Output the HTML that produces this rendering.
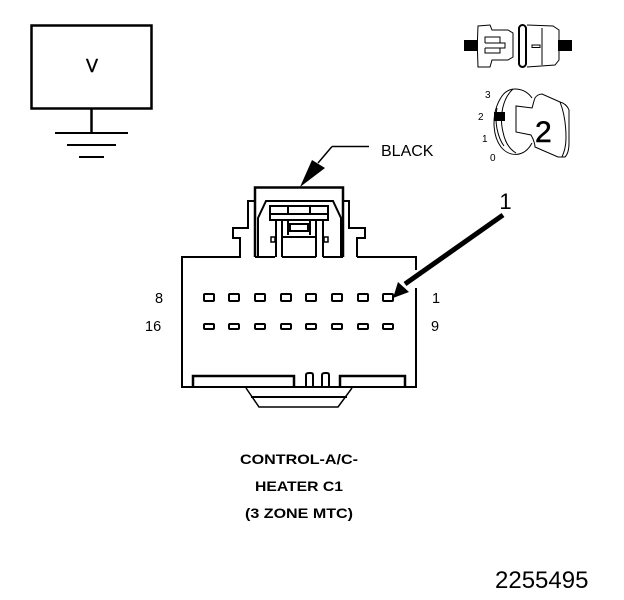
<!DOCTYPE html>
<html><head><meta charset="utf-8"><style>
html,body{margin:0;padding:0;background:#fff}
svg{display:block}
text{font-family:"Liberation Sans",sans-serif;fill:#000}
</style></head><body>
<svg width="624" height="600" viewBox="0 0 624 600" xmlns="http://www.w3.org/2000/svg">
<rect width="624" height="600" fill="#fff"/>
<!-- V box -->
<g fill="none" stroke="#000">
<rect x="31.500" y="25.500" width="120" height="83" stroke-width="2.500"/>
<path d="M91.500 109V133" stroke-width="2.500"/>
<path d="M55 133H128M67 145H116M79 157H104" stroke-width="2"/>
</g>
<text x="92" y="72" font-size="18" text-anchor="middle" stroke="#000" stroke-width="0.4">V</text>

<!-- Fuse icon -->
<g fill="#000">
<rect x="464" y="40" width="13" height="11"/>
<rect x="558" y="40" width="14" height="11"/>
</g>
<g fill="none" stroke="#000" stroke-width="1">
<path d="M478 26L490 25L492 30H508L513 33V57L508 60H492L490 67H478L477.500 52V39Z"/>
<path d="M485 43V37H500V43H485M500 43H505V48H500M485 48H500V53H485V48"/>
<path d="M527 25L553 26L559 30V60L555 65L527 67"/>
<path d="M542 28V65"/>
<rect x="532" y="45" width="8" height="2.500"/>
</g>
<rect x="519" y="25" width="7" height="42" rx="3.500" fill="none" stroke="#000" stroke-width="2"/>

<!-- Key icon -->
<g fill="#fff" stroke="#000" stroke-width="1">
<path d="M532 98C525 88 510 85 502 96C491 112 492 135 501 147C509 157 524 158 532 143"/>
<path d="M513 89C503 98 499 116 503 132C505 142 509 149 516 153" fill="none"/>
<path d="M497 108C494 122 498 138 504 146" fill="none"/>
<path d="M535 98C533 103 533 106 532 108L516 106V132L531 135C534 140 535 145 535 147L558 157H565C568 154 569 149 569 143V110C567 105 564 103 560 102L542 94C539 94 536 96 535 98Z"/>
<path d="M560 102C564 112 566 125 566 138C566 147 564 152 562 157" fill="none"/>
</g>
<rect x="494" y="112" width="11" height="9" fill="#000"/>
<text x="485" y="98" font-size="10">3</text>
<text x="478" y="120" font-size="10">2</text>
<text x="482" y="142" font-size="10">1</text>
<text x="490" y="161" font-size="10">0</text>
<text x="535" y="142" font-size="30" stroke="#000" stroke-width="0.5">2</text>

<!-- Black leader -->
<path d="M332 146.500H369M332 146.500L318 163" stroke="#000" stroke-width="1.500" fill="none"/>
<path d="M312 160L325 168L300 187Z" fill="#000"/>
<text x="381" y="156" font-size="16">BLACK</text>

<!-- Connector housing -->
<g fill="none" stroke="#000" stroke-width="2">
<path d="M241 257H182V387H416V288M416 270V257H357"/>
<path d="M255 257V187.500H343V257" stroke-width="2.500"/>
<path d="M255 201H248V228H233V238H240V257"/>
<path d="M343 201H349V228H365V238H357V257"/>
<path d="M258 257V218L266 201H333L341 218V257"/>
<path d="M255 257H275M282 257H316M323 257H343"/>
<path d="M270 206H328V220H270ZM288 206V214M310 206V214M270 214H328"/>
<path d="M276 220V257M323 220V257M282 220V257M316 220V257"/>
<path d="M288 220V235M310 220V235M283 237H316M290 224H308V231H290Z"/>
<path d="M271 237H275V242H271ZM324 237H328V242H324Z" stroke-width="1.500"/>
<path d="M193 387V376H294V387" stroke-width="2.500"/>
<path d="M340 387V376H405V387" stroke-width="2.500"/>
<path d="M306 387V375Q306 373 309 373H311Q313 373 313 375V387"/>
<path d="M322 387V375Q322 373 325 373H327Q329 373 329 375V387"/>
</g>
<g fill="none" stroke="#000" stroke-width="1.500">
<path d="M246 388L259 407H338L352 388"/>
<path d="M251 397H347" stroke-width="2"/>
</g>

<!-- Pins -->
<g fill="none" stroke="#000" stroke-width="2">
<rect x="204" y="294" width="10" height="7" rx="1"/>
<rect x="229" y="294" width="10" height="7" rx="1"/>
<rect x="255" y="294" width="10" height="7" rx="1"/>
<rect x="281" y="294" width="10" height="7" rx="1"/>
<rect x="306" y="294" width="10" height="7" rx="1"/>
<rect x="332" y="294" width="10" height="7" rx="1"/>
<rect x="358" y="294" width="10" height="7" rx="1"/>
<rect x="383" y="294" width="10" height="7" rx="1"/>
<rect x="204" y="324" width="10" height="5" rx="1"/>
<rect x="229" y="324" width="10" height="5" rx="1"/>
<rect x="255" y="324" width="10" height="5" rx="1"/>
<rect x="281" y="324" width="10" height="5" rx="1"/>
<rect x="306" y="324" width="10" height="5" rx="1"/>
<rect x="332" y="324" width="10" height="5" rx="1"/>
<rect x="358" y="324" width="10" height="5" rx="1"/>
<rect x="383" y="324" width="10" height="5" rx="1"/>
</g>

<!-- Arrow 1 -->
<path d="M503 215L405 284" stroke="#000" stroke-width="5" fill="none"/>
<path d="M393 298L398 282L409 292Z" fill="#000"/>

<!-- Labels -->
<text x="505.500" y="209" font-size="22" text-anchor="middle">1</text>
<text x="155" y="303" font-size="14.500">8</text>
<text x="432" y="303" font-size="14.500">1</text>
<text x="145" y="331" font-size="14.500">16</text>
<text x="431" y="331" font-size="14.500">9</text>
<g font-size="14" font-weight="bold">
<text x="240" y="464" textLength="118" lengthAdjust="spacingAndGlyphs">CONTROL-A/C-</text>
<text x="255" y="491" textLength="88" lengthAdjust="spacingAndGlyphs">HEATER C1</text>
<text x="245" y="518" textLength="108" lengthAdjust="spacingAndGlyphs">(3 ZONE MTC)</text>
</g>
<text x="495" y="588" font-size="24">2255495</text>
</svg>
</body></html>
